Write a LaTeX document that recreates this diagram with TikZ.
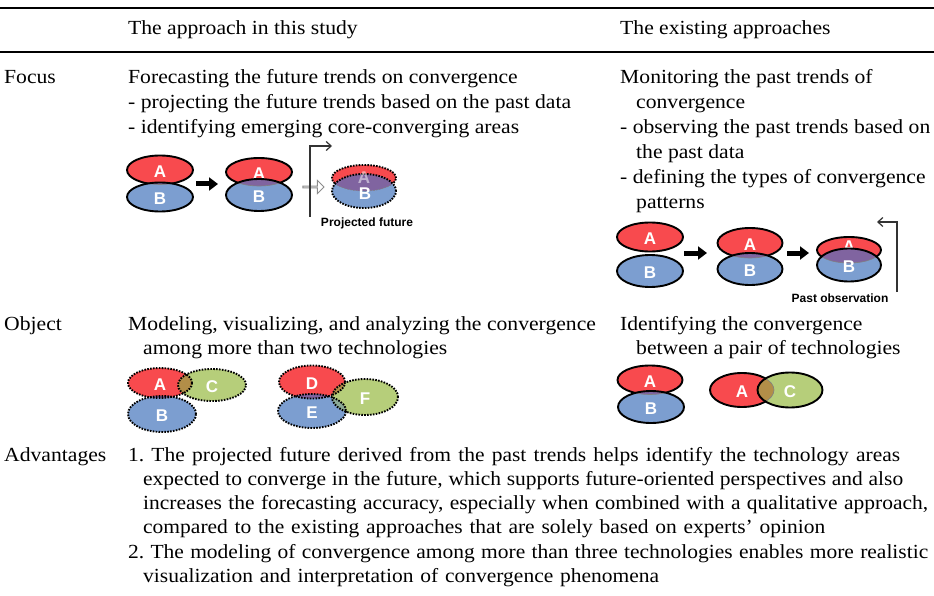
\documentclass[tikz,border=0pt]{standalone}
\usepackage{fontspec}
\setmainfont{Liberation Serif}[FakeStretch=1.082]
\newfontfamily\advfont{Liberation Serif}[FakeStretch=1.075]
\newfontfamily\techfont{Liberation Sans}
\usetikzlibrary{shapes.geometric,shapes.arrows,arrows.meta}
\frenchspacing

\definecolor{techred}{RGB}{248,74,78}
\definecolor{techblue}{RGB}{124,158,208}
\definecolor{techgreen}{RGB}{182,206,122}
\definecolor{olapRB}{RGB}{128,100,160}
\definecolor{olapRG}{RGB}{178,142,72}
\definecolor{olapBG}{RGB}{140,170,150}

\tikzset{
  rowtext/.style={anchor=base west, inner sep=0pt, font=\fontsize{20}{24}\selectfont},
  advtext/.style={rowtext, font=\advfont\fontsize{20}{24}\selectfont},
  tech/.style={ellipse, draw, line width=1.9pt, inner sep=0pt, text=white,
    text height=15.5pt, text depth=0pt,
    font=\techfont\bfseries\fontsize{17}{17}\selectfont},
  techtext/.style={inner sep=0pt, text=white, font=\techfont\bfseries\fontsize{17}{17}\selectfont},
  dotrim/.style={line width=1.9pt, dash pattern=on 1.6pt off 1.3pt},
  note/.style={inner sep=0pt, font=\techfont\bfseries\fontsize{12}{12}\selectfont},
  blockarrow/.style={line width=5pt, -{Triangle[length=9pt, width=13pt]}},
  backarrow/.style={line width=1.2pt, black!80, -{Straight Barb[length=5pt, width=9pt]}},
}

% text lines and technology ellipses
\newcommand{\rowtext}{\node[rowtext]}
\newcommand{\advtext}{\node[advtext]}
\newcommand{\fitto}[2]{\hbox to #1pt{#2}}
\newcommand{\rn}{\node[tech, fill=techred]}
\newcommand{\bn}{\node[tech, fill=techblue]}
\newcommand{\gn}{\node[tech, fill=techgreen]}
% shared area of two ellipses, used inside a path picture
\newcommand{\olap}[5][black!50, line width=.6pt]{%
  \fill[#5] (#2.center) ellipse [x radius=#3, y radius=#4];
  \draw[#1] (#2.center) ellipse [x radius=#3, y radius=#4];}

\begin{document}
\begin{tikzpicture}[x=1pt, y=-1pt]
\useasboundingbox (0,0) rectangle (934,596);

% rules
\draw[line width=2.4pt] (0,8) -- (934,8);
\draw[line width=2.4pt] (0,52) -- (934,52);

% header
\rowtext (h1) at (128,35) {The approach in this study};
\rowtext (h2) at (620,35) {The existing approaches};

% focus row
\rowtext (r1) at (4,84) {Focus};
\rowtext (f1) at (128,84) {Forecasting the future trends on convergence};
\rowtext (f2) at (128,109) {- projecting the future trends based on the past data};
\rowtext (f3) at (128,134) {- identifying emerging core-converging areas};
\rowtext (g1) at (620,84) {Monitoring the past trends of};
\rowtext (g2) at (636,109) {convergence};
\rowtext (g3) at (620,134) {- observing the past trends based on};
\rowtext (g4) at (636,159) {the past data};
\rowtext (g5) at (620,184) {- defining the types of convergence};
\rowtext (g6) at (636,209) {patterns};

\rn[minimum width=66, minimum height=29] (a1) at (160,170) {A};
\bn[minimum width=66, minimum height=29, path picture={\olap{a1}{33}{14.5}{olapRB}}] (b1) at (160,197) {B};
\rn[minimum width=66, minimum height=28] (a2) at (259,172) {A};
\bn[minimum width=66, minimum height=32, path picture={\olap{a2}{33}{14}{olapRB}}] (b2) at (259,195) {B};
\rn[dotrim, minimum width=64, minimum height=26] (a3) at (364,178) {};
\bn[dotrim, minimum width=64, minimum height=34, path picture={\olap{a3}{32}{13}{olapRB}}] (b3) at (364,191) {};
\node[techtext, opacity=.5] (a3t) at (364,178) {A};
\node[techtext] (b3t) at (365,194) {B};

\coordinate (m1) at (160,184);
\coordinate (m2) at (259,184);
\draw[blockarrow, shorten <=36pt, shorten >=41pt] (m1) -- (m2);
\node[single arrow, draw=black!45, fill=white, line width=.9pt, minimum height=21,
  minimum width=13, single arrow head extend=3pt, inner sep=0pt] (fwd) at (313,187) {};
\coordinate (fb0) at (310,217);
\coordinate (fb1) at (332,146);
\draw[backarrow] (fb0) |- (fb1);
\node[note] (proj) at (367,223) {Projected future};

\rn[minimum width=66, minimum height=29] (a4) at (650,237) {A};
\bn[minimum width=66, minimum height=32] (b4) at (650,271) {B};
\rn[minimum width=65, minimum height=30] (a5) at (750,243) {A};
\bn[minimum width=65, minimum height=32, path picture={\olap{a5}{32.5}{15}{olapRB}}] (b5) at (750,269) {B};
\rn[minimum width=64, minimum height=26, text height=5pt] (a6) at (849,250) {A};
\bn[minimum width=64, minimum height=33, path picture={\olap{a6}{32}{13}{olapRB}}] (b6) at (849,265) {B};

\coordinate (m4) at (650,253);
\coordinate (m5) at (750,253);
\coordinate (m6) at (849,253);
\draw[blockarrow, shorten <=34pt, shorten >=43pt] (m4) -- (m5);
\draw[blockarrow, shorten <=37pt, shorten >=40pt] (m5) -- (m6);
\coordinate (pb0) at (897,292);
\coordinate (pb1) at (877,222);
\draw[backarrow] (pb0) |- (pb1);
\node[note] (past) at (840,298) {Past observation};

% object row
\rowtext (r2) at (4,330) {Object};
\rowtext (o1) at (128,330) {Modeling, visualizing, and analyzing the convergence};
\rowtext (o2) at (143,354) {among more than two technologies};
\rowtext (p1) at (620,330) {Identifying the convergence};
\rowtext (p2) at (636,354) {between a pair of technologies};

\rn[dotrim, minimum width=64, minimum height=30] (a7) at (160,383) {A};
\gn[dotrim, minimum width=68, minimum height=32, path picture={\olap[dotrim]{a7}{32}{15}{olapRG}}] (c7) at (212,385) {C};
\bn[dotrim, minimum width=68, minimum height=36, path picture={\olap[dotrim]{a7}{32}{15}{olapRB}}] (b7) at (162,414) {B};

\rn[dotrim, minimum width=66, minimum height=33] (d8) at (312,382) {D};
\bn[dotrim, minimum width=68, minimum height=34, path picture={\olap[dotrim]{d8}{33}{16.5}{olapRB}}] (e8) at (312,411) {E};
\gn[dotrim, minimum width=66, minimum height=36, path picture={\olap[dotrim]{d8}{33}{16.5}{olapRG}\olap[dotrim]{e8}{34}{17}{olapBG}}] (f8) at (365,397) {F};

\rn[minimum width=65, minimum height=29] (a9) at (650,380) {A};
\bn[minimum width=66, minimum height=32, path picture={\olap{a9}{32.5}{14.5}{olapRB}}] (b9) at (651,407) {B};
\rn[minimum width=64, minimum height=34] (a10) at (742,390) {A};
\gn[minimum width=65, minimum height=35, path picture={\olap{a10}{32}{17}{olapRG}}] (c10) at (790,390) {C};

% advantages row, each line set to its own width
\rowtext (r3) at (4,461) {Advantages};
\advtext (v1) at (128,461) {\fitto{772}{1. The projected future derived from the past trends helps identify the technology areas}};
\advtext (v2) at (143,485) {\fitto{760}{expected to converge in the future, which supports future-oriented perspectives and also}};
\advtext (v3) at (143,509) {\fitto{785}{increases the forecasting accuracy, especially when combined with a qualitative approach,}};
\advtext (v4) at (143,533) {\fitto{682}{compared to the existing approaches that are solely based on experts’ opinion}};
\advtext (v5) at (128,558) {\fitto{800}{2. The modeling of convergence among more than three technologies enables more realistic}};
\advtext (v6) at (143,582) {\fitto{516}{visualization and interpretation of convergence phenomena}};
\end{tikzpicture}
\end{document}
